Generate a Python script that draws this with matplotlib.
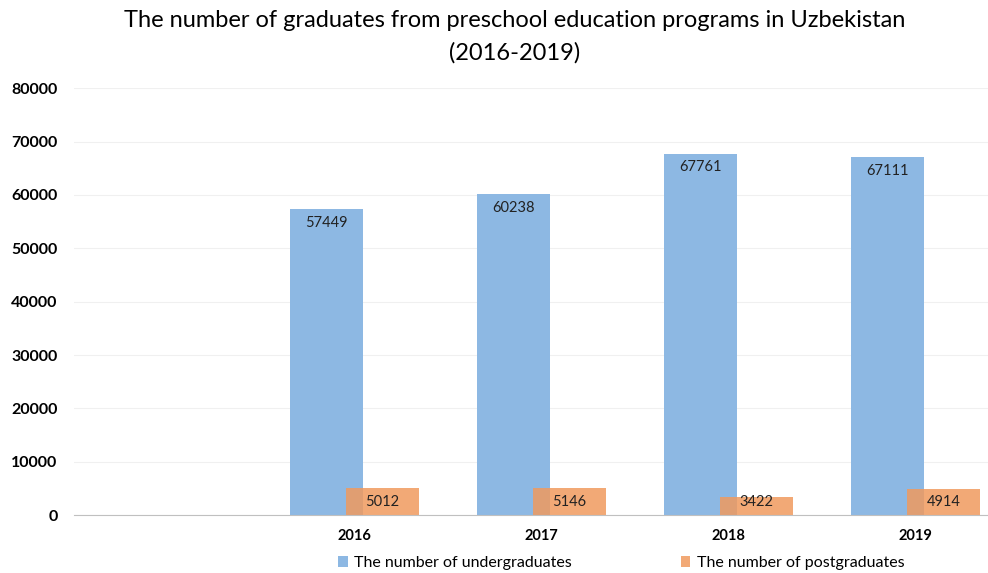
import numpy as np
import matplotlib.pyplot as plt

plt.rcParams['font.family'] = ['Lato', 'DejaVu Sans']

# Data
categories = ['', '2016', '2017', '2018', '2019']
years = ['2016', '2017', '2018', '2019']
undergraduates = [57449, 60238, 67761, 67111]
postgraduates = [5012, 5146, 3422, 4914]

blue = '#8db8e3'
orange = '#f09a5e'

fig = plt.figure(figsize=(9.88, 5.73), dpi=100)
# the plot area runs past the right edge, as in the original screenshot
ax = fig.add_axes([0.075, 0.101, 0.946, 0.745])

x = np.arange(1, len(years) + 1)
w = 0.39
off = 0.15
b1 = ax.bar(x - off, undergraduates, w, color=blue, label='The number of undergraduates', zorder=2)
b2 = ax.bar(x + off, postgraduates, w, color=orange, alpha=0.85, label='The number of postgraduates', zorder=3)

for bar, v in zip(b1, undergraduates):
    ax.text(bar.get_x() + bar.get_width() / 2, v - 1300, str(v),
            ha='center', va='top', fontsize=10.5, color='#222222', zorder=4)
for bar, v in zip(b2, postgraduates):
    ax.text(bar.get_x() + bar.get_width() / 2, 2500, str(v),
            ha='center', va='center', fontsize=10.5, color='#222222', zorder=4)

ax.set_xlim(-0.5, len(categories) - 0.5)
ax.set_ylim(0, 80000)
ax.set_xticks(np.arange(len(categories)))
ax.set_xticklabels(categories, fontweight='bold', fontsize=10.5)
ax.set_yticks(np.arange(0, 80001, 10000))
ax.tick_params(axis='y', labelsize=11.5, length=0, pad=12)
ax.tick_params(axis='x', length=0, pad=10)
for lbl in ax.get_yticklabels():
    lbl.set_fontweight('bold')

ax.grid(axis='y', color='#f0f0f0', linewidth=0.8, zorder=0)
for s in ['top', 'right', 'left']:
    ax.spines[s].set_visible(False)
ax.spines['bottom'].set_color('#c0c0c0')
ax.spines['bottom'].set_zorder(5)

fig.suptitle('The number of graduates from preschool education programs in Uzbekistan\n(2016-2019)',
             x=0.521, y=0.982, fontsize=17, linespacing=1.6)

fig.legend(loc='lower center', bbox_to_anchor=(0.629, -0.02), ncol=2, frameon=False,
           fontsize=11.5, handlelength=0.6, handleheight=0.6, columnspacing=6.8, handletextpad=0.4)

fig.savefig('out.png', dpi=100)
